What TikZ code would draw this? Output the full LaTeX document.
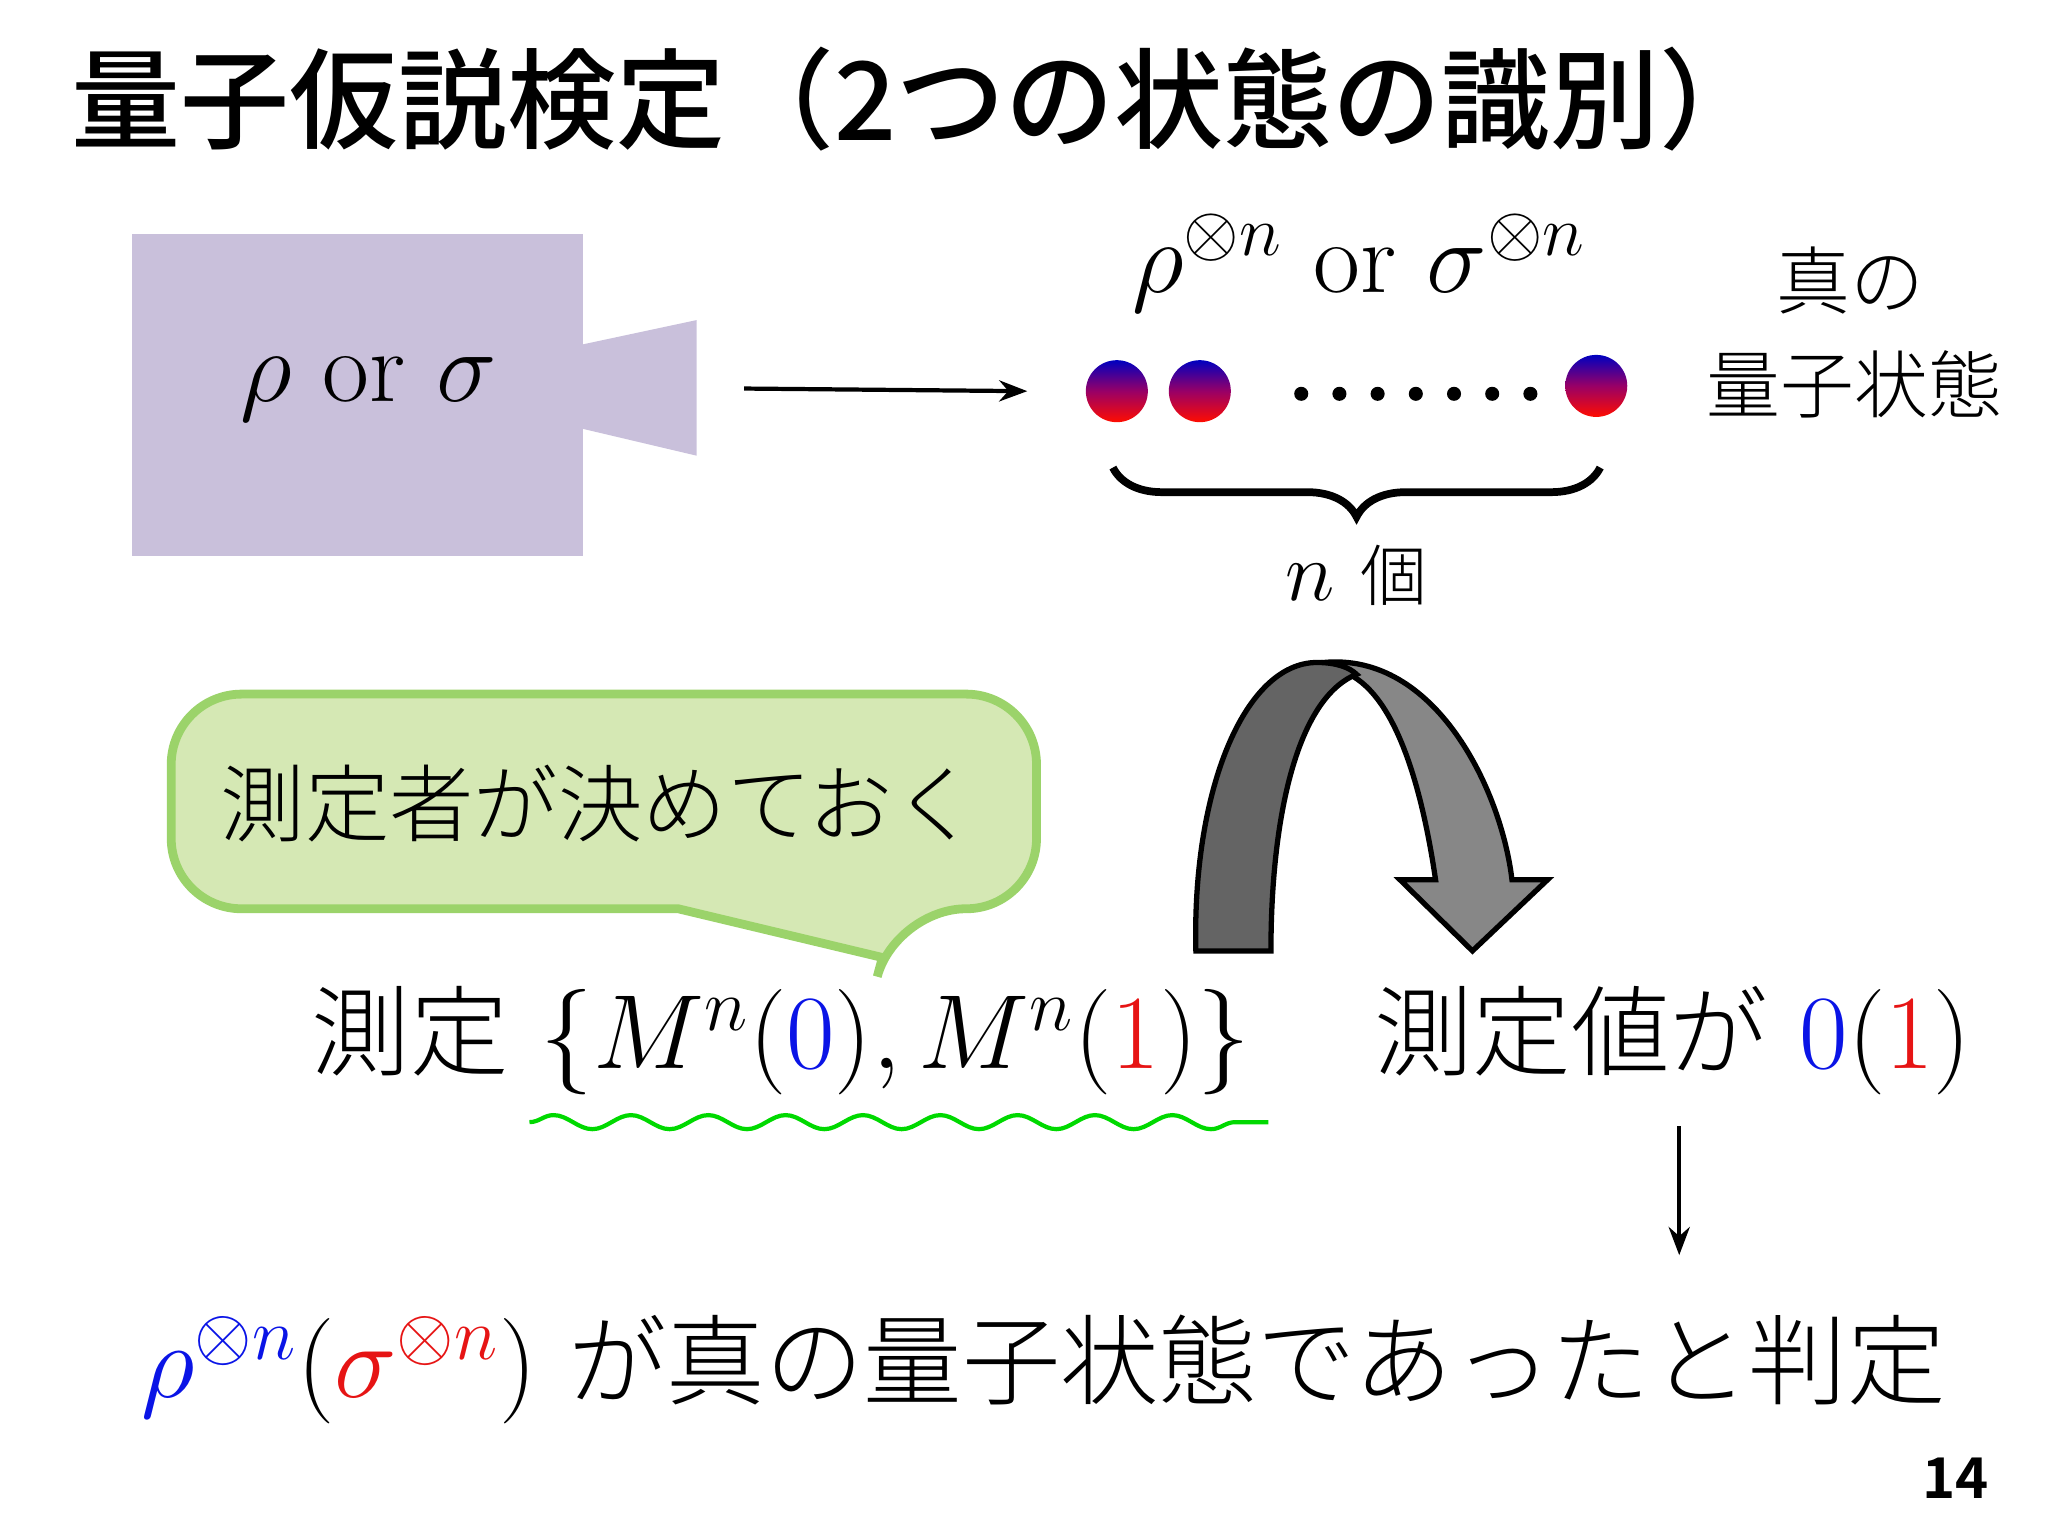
\documentclass[tikz,border=0pt]{standalone}
\usepackage{fix-cm}
\usepackage{fontspec}
\newfontfamily\jp{Noto Sans CJK JP Medium}
\newfontfamily\jpb{Noto Sans CJK JP Bold}
\newfontfamily\jpl{Noto Sans CJK JP Light}
\usetikzlibrary{decorations.pathreplacing,decorations.pathmorphing,arrows.meta}
\definecolor{mblue}{RGB}{10,20,230}
\definecolor{mred}{RGB}{230,20,20}
\newcommand{\jpt}[1]{{\jpl\fontsize{28}{30}\selectfont #1}}
\tikzset{
  ball/.style={circle,minimum size=0.62cm,inner sep=0pt,top color=blue!75!black,bottom color=red!90!orange,middle color=purple!80!blue},
  dotp/.style={circle,fill=black,minimum size=4pt,inner sep=0pt},
  big/.style={font=\fontsize{30}{34}\selectfont},
  mid/.style={font=\fontsize{29}{33}\selectfont},
  conn/.style={-{Stealth[length=8pt]},line width=1.2pt}
}
\begin{document}
\begin{tikzpicture}[x=0.01317cm,y=-0.01317cm]
\useasboundingbox (0,0) rectangle (1555,1166);
\node[anchor=west,font=\jp\fontsize{31}{34}\selectfont] (title) at (45,75) {量子仮説検定（2つの状態の識別）};
% source box
\fill[fill={rgb,255:red,201;green,192;blue,219}] (100,178) rectangle (443,422);
\fill[fill={rgb,255:red,201;green,192;blue,219}] (440,262) -- (529,243) -- (529,346) -- (440,325) -- cycle;
\node[mid] (src) at (280,295) {$\rho$ or $\sigma$};
\coordinate (a1) at (565,295);
\coordinate (a2) at (780,297);
\draw[conn] (a1) -- (a2);
\node[ball] (b1) at (848,297) {};
\node[ball] (b2) at (911,297) {};
\node[ball] (b3) at (1212,293) {};
\foreach \i in {0,...,6} \node[dotp] (d\i) at (988+\i*29,299) {};
\node[mid] (state) at (1032,200) {$\rho^{\otimes n}$ or $\sigma^{\otimes n}$};
\coordinate (br1) at (845,355);
\coordinate (br2) at (1215,355);
\draw[decorate,decoration={brace,mirror,amplitude=14pt},line width=2.2pt] (br1) -- (br2);
\node[font=\fontsize{24}{26}\selectfont] (ncount) at (1030,437) {$n$ {\jpl\fontsize{19}{22}\selectfont 個}};
\node[font=\jpl\fontsize{21}{24}\selectfont] (true1) at (1405,213) {真の};
\node[font=\jpl\fontsize{21}{24}\selectfont] (true2) at (1408,292) {量子状態};
% callout
\draw[line width=2.5pt,draw={rgb,255:red,155;green,211;blue,106},fill={rgb,255:red,213;green,232;blue,180},rounded corners=20pt]
  (130,527) -- (787,527) -- (787,690) -- (680,690) [sharp corners] -- (670,727) -- (515,690) [rounded corners=20pt] -- (130,690) -- cycle;
\node[font=\jpl\fontsize{24}{28}\selectfont] (callout) at (455,610) {測定者が決めておく};
% curved arrow
\draw[line width=1.5pt,fill={rgb,255:red,135;green,135;blue,135}]
  (1005,503) .. controls (1090,495) and (1140,600) .. (1148,668) -- (1175,668) -- (1118,722) -- (1063,668) -- (1090,668)
  .. controls (1080,600) and (1060,525) .. (1020,510) -- cycle;
\draw[line width=1.5pt,fill={rgb,255:red,100;green,100;blue,100}]
  (908,722) .. controls (905,600) and (945,503) .. (1000,503) .. controls (1015,503) and (1025,507) .. (1030,512)
  .. controls (985,530) and (965,620) .. (965,722) -- cycle;
% measurement
\node[big] (meas) at (593,790) {\jpt{測定} $\{M^n({\color{mblue}0}),M^n({\color{mred}1})\}$};
\coordinate (w1) at (402,852);
\coordinate (w2) at (963,852);
\draw[decorate,decoration={snake,amplitude=2pt,segment length=22pt},green!85!black,line width=1.2pt] (w1) -- (w2);
\node[big] (val) at (1270,790) {\jpt{測定値が} ${\color{mblue}0}({\color{mred}1})$};
\coordinate (d1) at (1275,855);
\coordinate (d2) at (1275,953);
\draw[conn] (d1) -- (d2);
\node[big,anchor=west] (concl) at (98,1040) {${\color{mblue}\rho^{\otimes n}}({\color{mred}\sigma^{\otimes n}})$ \jpt{が真の量子状態であったと判定}};
\node[font=\jpb\fontsize{16}{20}\selectfont] (page) at (1485,1122) {14};
\end{tikzpicture}
\end{document}
